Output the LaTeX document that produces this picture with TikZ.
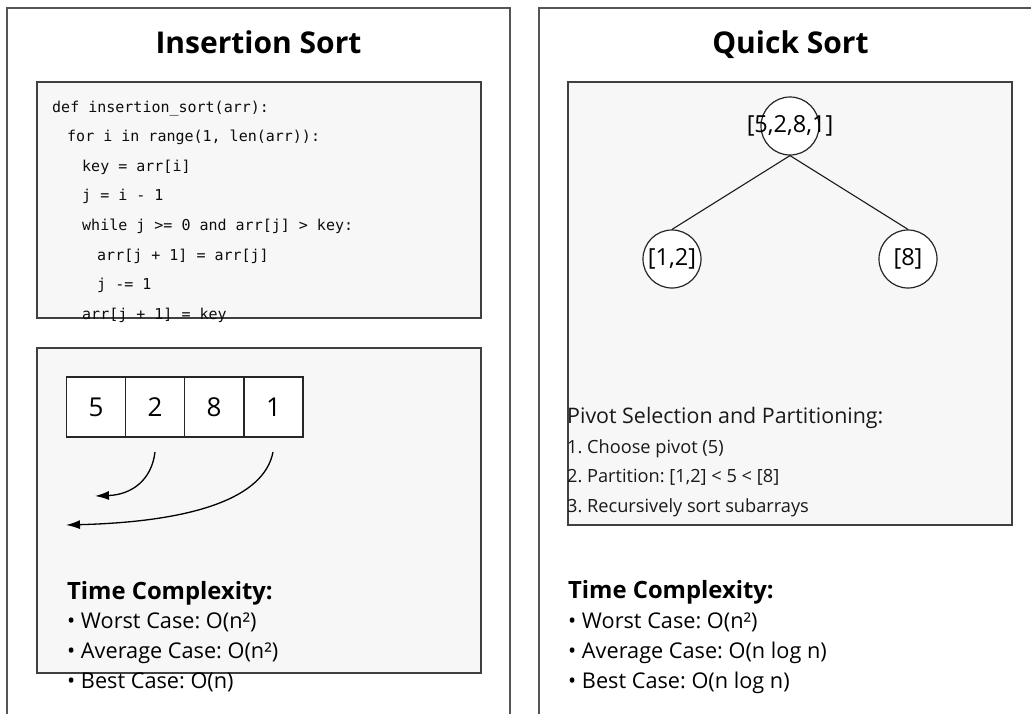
\documentclass[tikz,border=0pt]{standalone}
\usepackage{fontspec}
\setmainfont{Open Sans}
\setmonofont{DejaVu Sans Mono}
\usetikzlibrary{arrows.meta}
\definecolor{boxgray}{HTML}{F7F7F7}
\definecolor{framegray}{HTML}{555555}
\frenchspacing
\tikzset{
  panel/.style={draw=framegray, line width=1.4pt, fill=white},
  innerbox/.style={draw=black!75, line width=1.4pt, fill=boxgray},
  title/.style={anchor=base, inner sep=0pt, font=\bfseries\fontsize{30}{36}\selectfont},
  codeline/.style={anchor=base west, inner sep=0pt, text=black!95, font=\ttfamily\fontsize{15}{18}\selectfont},
  cell/.style={draw=black!85, line width=1.2pt, fill=white, minimum width=59pt, minimum height=60pt, inner sep=0pt, font=\fontsize{26}{30}\selectfont},
  swaparrow/.style={line width=1.3pt, -{Latex[length=14pt,width=9pt]}},
  treenode/.style={circle, draw=black!85, line width=1.2pt, fill=white, minimum size=58pt, inner sep=0pt},
  treelabel/.style={inner sep=0pt, font=\fontsize{23.5}{28}\selectfont},
  treeedge/.style={line width=1.1pt, draw=black!90},
  heading/.style={anchor=base west, inner sep=0pt, font=\bfseries\fontsize{23.8}{28}\selectfont},
  bullet/.style={anchor=base west, inner sep=0pt, font=\fontsize{21.7}{26}\selectfont},
  pivothead/.style={anchor=base west, inner sep=0pt, text=black!90, font=\fontsize{21.4}{26}\selectfont},
  pivotstep/.style={anchor=base west, inner sep=0pt, text=black!90, font=\fontsize{18.2}{22}\selectfont},
}
\begin{document}
\begin{tikzpicture}[x=1pt, y=-1pt]
\useasboundingbox (0,0) rectangle (1031,713);
\clip (0,0) rectangle (1031,713);

% ---------- Insertion sort panel ----------
\draw[panel] (7,8) rectangle (510,740);
\node[title] (istitle) at (258.5,53) {Insertion Sort};

\draw[innerbox] (37,82) rectangle (481,318);
\node[codeline] (c1) at (52,112)    {def insertion\_sort(arr):};
\node[codeline] (c2) at (67,141.6)  {for i in range(1, len(arr)):};
\node[codeline] (c3) at (82,171.2)  {key = arr[i]};
\node[codeline] (c4) at (82,200.8)  {j = i - 1};
\node[codeline] (c5) at (82,230.4)  {while j >= 0 and arr[j] > key:};
\node[codeline] (c6) at (97,260)    {arr[j + 1] = arr[j]};
\node[codeline] (c7) at (97,289.6)  {j -= 1};
\node[codeline] (c8) at (82,319.2)  {arr[j + 1] = key};

\draw[innerbox] (37,348) rectangle (481,673);
\node[cell] (a1) at (96,407)    {5};
\node[cell] (a2) at (155,407)   {2};
\node[cell] (a3) at (214,407)   {8};
\node[cell] (a4) at (273.5,407) {1};

\coordinate (from2) at (155,452);
\coordinate (to2)   at (95,496);
\coordinate (from1) at (273,452);
\coordinate (to1)   at (66,525);
\draw[swaparrow] (from2) .. controls (151.7,480) and (131.7,494.7) .. (to2);
\draw[swaparrow] (from1) .. controls (264.3,497.3) and (195.3,521.7) .. (to1);

\node[heading] (ishead) at (67,599) {Time Complexity:};
\node[bullet] (isw) at (67,628) {• Worst Case: O(n²)};
\node[bullet] (isa) at (67,658) {• Average Case: O(n²)};
\node[bullet] (isb) at (67,688) {• Best Case: O(n)};

% ---------- Quick sort panel ----------
\draw[panel] (539,8) rectangle (1042,740);
\node[title] (qstitle) at (790.5,53) {Quick Sort};

\draw[innerbox] (568,82) rectangle (1012,525);
\node[treenode] (root)  at (790,126) {};
\node[treenode] (left)  at (672,259) {};
\node[treenode] (right) at (908,259) {};
\node[treelabel] (rootlbl)  at (root)  {[5,2,8,1]};
\node[treelabel] (leftlbl)  at (left)  {[1,2]};
\node[treelabel] (rightlbl) at (right) {[8]};
\draw[treeedge] (root.south) -- (left.north);
\draw[treeedge] (root.south) -- (right.north);

\node[pivothead] (pv)  at (567,423) {Pivot Selection and Partitioning:};
\node[pivotstep] (pv1) at (567,453) {1. Choose pivot (5)};
\node[pivotstep] (pv2) at (567,482) {2. Partition: [1,2] < 5 < [8]};
\node[pivotstep] (pv3) at (567,512) {3. Recursively sort subarrays};

\node[heading] (qshead) at (568,598) {Time Complexity:};
\node[bullet] (qsw) at (568,628) {• Worst Case: O(n²)};
\node[bullet] (qsa) at (568,658) {• Average Case: O(n log n)};
\node[bullet] (qsb) at (568,688) {• Best Case: O(n log n)};
\end{tikzpicture}
\end{document}
